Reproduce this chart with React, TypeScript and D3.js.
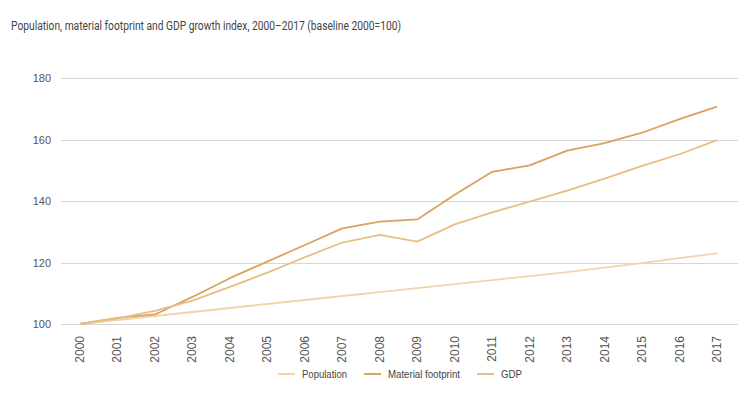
import React, { useEffect, useRef } from "react";
import * as d3 from "d3";

const years = [2000, 2001, 2002, 2003, 2004, 2005, 2006, 2007, 2008, 2009, 2010, 2011, 2012, 2013, 2014, 2015, 2016, 2017];
const population = [100, 101.3, 102.6, 103.9, 105.2, 106.5, 107.8, 109.1, 110.4, 111.7, 113.0, 114.3, 115.6, 116.9, 118.3, 119.8, 121.4, 123];
const materialFootprint = [100, 102, 103.1, 108.8, 114.9, 120.3, 125.7, 131.1, 133.3, 134, 142, 149.5, 151.6, 156.4, 158.8, 162.2, 166.6, 170.7];
const gdp = [100, 101.8, 104.3, 107.6, 112.1, 116.7, 121.7, 126.5, 129, 126.8, 132.4, 136.3, 139.8, 143.4, 147.3, 151.4, 155.2, 159.8];
const yTicks = [100, 120, 140, 160, 180];

const series = [
  { name: "Population", values: population, color: "#f2d4ac" },
  { name: "Material footprint", values: materialFootprint, color: "#d9a35e" },
  { name: "GDP", values: gdp, color: "#e8bd86" },
];

const W = 753;
const H = 397;
const margin = { top: 78, right: 15, bottom: 73, left: 61 };

export default function App() {
  const ref = useRef<SVGSVGElement>(null);

  useEffect(() => {
    if (!ref.current) return;
    const svg = d3.select(ref.current);
    svg.selectAll("*").remove();

    const x = d3.scalePoint<number>().domain(years).range([80, 717]);

    const y = d3
      .scaleLinear()
      .domain([100, 180])
      .range([H - margin.bottom, margin.top]);

    svg
      .append("text")
      .attr("x", 11)
      .attr("y", 30)
      .attr("font-family", "Roboto, sans-serif")
      .attr("font-size", 12)
      .attr("fill", "#444")
      .attr("textLength", 390)
      .attr("lengthAdjust", "spacingAndGlyphs")
      .text("Population, material footprint and GDP growth index, 2000–2017 (baseline 2000=100)");

    svg
      .append("g")
      .selectAll("line")
      .data(yTicks)
      .join("line")
      .attr("x1", margin.left)
      .attr("x2", W - margin.right)
      .attr("y1", (d) => Math.round(y(d)) + 0.5)
      .attr("y2", (d) => Math.round(y(d)) + 0.5)
      .attr("stroke", "#d6d6d6")
      .attr("stroke-width", 1);

    svg
      .append("g")
      .selectAll("text")
      .data(yTicks)
      .join("text")
      .attr("x", 51)
      .attr("y", (d) => y(d) + 4)
      .attr("text-anchor", "end")
      .attr("font-family", "Arial, 'Liberation Sans', sans-serif")
      .attr("font-size", 11)
      .attr("fill", "#555")
      .text((d) => d);

    svg
      .append("g")
      .selectAll("text")
      .data(years)
      .join("text")
      .attr("transform", (d) => `translate(${x(d)! + 4},336) rotate(-90)`)
      .attr("text-anchor", "end")
      .attr("font-family", "Arial, 'Liberation Sans', sans-serif")
      .attr("font-size", 12)
      .attr("fill", "#555")
      .text((d) => d);

    const line = d3
      .line<number>()
      .x((_, i) => x(years[i])!)
      .y((d) => y(d));

    series.forEach((s) => {
      svg
        .append("path")
        .datum(s.values)
        .attr("d", line)
        .attr("fill", "none")
        .attr("stroke", s.color)
        .attr("stroke-width", 1.8)
        .attr("stroke-linejoin", "round");
    });

    // legend
    const legendX = [278, 364, 477];
    const legendW = [45, 72, 21];
    const lg = svg.append("g");
    series.forEach((s, i) => {
      lg.append("line")
        .attr("x1", legendX[i])
        .attr("x2", legendX[i] + 17)
        .attr("y1", 374)
        .attr("y2", 374)
        .attr("stroke", s.color)
        .attr("stroke-width", 2);
      lg.append("text")
        .attr("x", legendX[i] + 24)
        .attr("y", 378)
        .attr("font-family", "Arial, 'Liberation Sans', sans-serif")
        .attr("font-size", 11)
        .attr("fill", "#444")
        .attr("textLength", legendW[i])
        .attr("lengthAdjust", "spacingAndGlyphs")
        .text(s.name);
    });
  }, []);

  return (
    <svg
      ref={ref}
      width={W}
      height={H}
      style={{ position: "absolute", left: 0, top: 0, background: "#fff" }}
    />
  );
}
